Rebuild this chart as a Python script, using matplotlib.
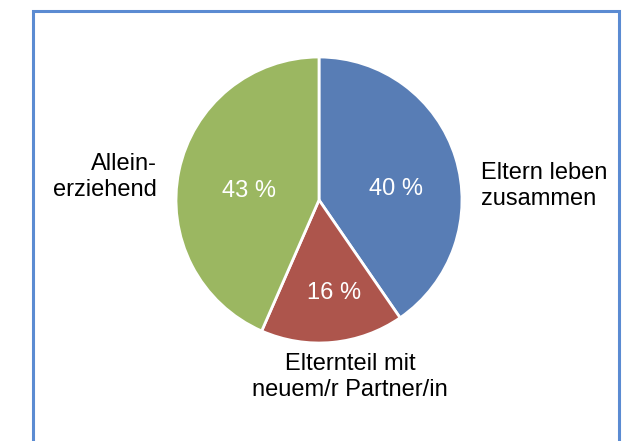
import matplotlib.pyplot as plt
from matplotlib.patches import Rectangle

plt.rcParams['font.family'] = ['Liberation Sans', 'DejaVu Sans']

# data
categories = ["Eltern leben\nzusammen", "Elternteil mit\nneuem/r Partner/in", "Allein-\nerziehend"]
shares = [40, 16, 43]
pct_labels = ["40 %", "16 %", "43 %"]
colors = ["#587db5", "#ad554c", "#9bb761"]

W, H = 624, 441
fig = plt.figure(figsize=(W / 100, H / 100), dpi=100)

# frame around the chart (runs off the bottom)
fig.patches.append(Rectangle((33 / W, -0.05), (619 - 33) / W, 1.05 - 11 / H,
                             transform=fig.transFigure, fill=False,
                             edgecolor="#5b8bd2", linewidth=2.2))

# pie centre (319, 200) px, radius 143 px
cx, cy, r = 319, 200, 143
ax = fig.add_axes([(cx - r) / W, 1 - (cy + r) / H, 2 * r / W, 2 * r / H])
wedges, _ = ax.pie(shares, colors=colors, startangle=90, counterclock=False,
                   wedgeprops=dict(edgecolor="white", linewidth=2))
ax.set_xlim(-1, 1)
ax.set_ylim(-1, 1)
ax.set_aspect("equal")
ax.axis("off")

def px(x, y):
    return ((x - cx) / r, (cy - y) / r)

fs = 17

# percentage labels inside wedges
pct_pos = [(396, 189), (334, 293), (249, 191)]
for lab, (x, y) in zip(pct_labels, pct_pos):
    ax.text(*px(x, y), lab, color="white", fontsize=fs, ha="center", va="center")

# category labels outside
ax.text(*px(481, 186), categories[0], fontsize=fs, ha="left", va="center",
        linespacing=1.2, clip_on=False)
ax.text(*px(350, 377), categories[1], fontsize=fs, ha="center", va="center",
        linespacing=1.2, clip_on=False)
ax.text(*px(157, 177), categories[2], fontsize=fs, ha="right", va="center",
        linespacing=1.2, clip_on=False)

fig.savefig("out.png", dpi=100)
